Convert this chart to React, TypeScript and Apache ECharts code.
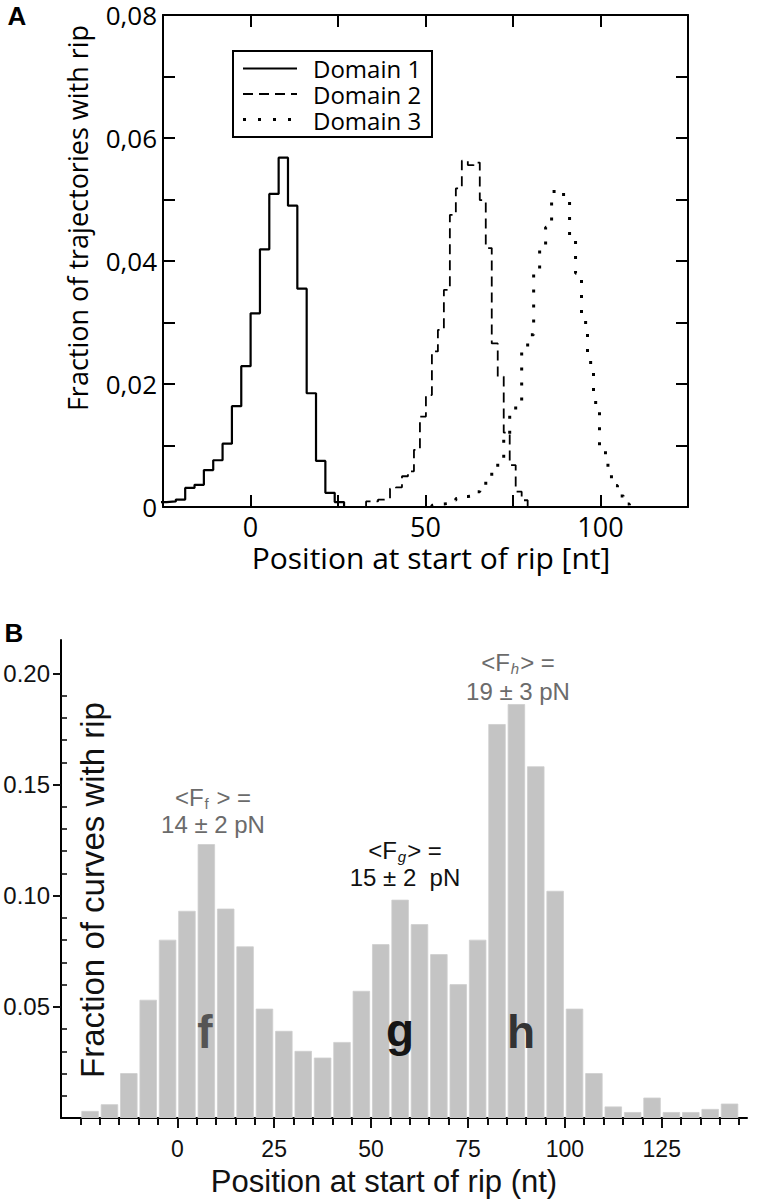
import React, { useEffect, useRef } from 'react';
import * as echarts from 'echarts';

// ---------- Panel A data (step histograms) ----------
const aXLabelValues = [0, 50, 100];
const d1Start = -26.67;
const d1Bin = 2.67;
const d1Values = [0.0008, 0.0009, 0.0012, 0.0031, 0.0036, 0.006, 0.0076, 0.0103, 0.0164, 0.0229, 0.0315, 0.0419, 0.0509, 0.0568, 0.049, 0.0355, 0.0185, 0.0075, 0.0023, 0.0008];
const d23Bin = 1.71;
const d2Start = 33.02;
const d2Values = [0.0009, 0.0009, 0.0012, 0.0013, 0.003, 0.0032, 0.005, 0.0058, 0.0093, 0.0147, 0.0182, 0.0253, 0.0288, 0.0353, 0.0475, 0.0518, 0.0563, 0.0556, 0.056, 0.0499, 0.0421, 0.0266, 0.0212, 0.0121, 0.0068, 0.0025, 0.0011, 0.0002];
const d3Start = 51.83;
const d3Values = [0.0003, 0.0005, 0.0006, 0.0011, 0.0014, 0.0017, 0.0018, 0.0025, 0.0035, 0.005, 0.0063, 0.0078, 0.011, 0.015, 0.0172, 0.0255, 0.028, 0.0382, 0.042, 0.0455, 0.0513, 0.0515, 0.0502, 0.0442, 0.038, 0.03, 0.0235, 0.017, 0.0095, 0.0068, 0.0035, 0.0018, 0.0005];
const legendNames = ['Domain 1', 'Domain 2', 'Domain 3'];

// ---------- Panel B data (bar histogram) ----------
const bBin = 5;
const bBinStarts = [-25, -20, -15, -10, -5, 0, 5, 10, 15, 20, 25, 30, 35, 40, 45, 50, 55, 60, 65, 70, 75, 80, 85, 90, 95, 100, 105, 110, 115, 120, 125, 130, 135, 140];
const bValues = [0.003, 0.006, 0.02, 0.053, 0.08, 0.093, 0.123, 0.094, 0.077, 0.049, 0.039, 0.03, 0.027, 0.034, 0.057, 0.078, 0.098, 0.087, 0.0735, 0.06, 0.08, 0.177, 0.186, 0.158, 0.102, 0.049, 0.02, 0.005, 0.0025, 0.009, 0.0025, 0.0025, 0.0039, 0.0063];
const bXLabelValues = [0, 25, 50, 75, 100, 125];
const bXMinorTicks = [-25, -20, -15, -10, -5, 0, 5, 10, 15, 20, 25, 30, 35, 40, 45, 50, 55, 60, 65, 70, 75, 80, 85, 90, 95, 100, 105, 110, 115, 120, 125, 130, 135, 140, 145];
const bYLabelValues = [0.05, 0.1, 0.15, 0.2];
const bYMinorTicks = [0.01, 0.02, 0.03, 0.04, 0.06, 0.07, 0.08, 0.09, 0.11, 0.12, 0.13, 0.14, 0.16, 0.17, 0.18, 0.19];

function stepData(start: number, bin: number, values: number[]) {
  const pts: number[][] = [[start, 0]];
  values.forEach((v, i) => pts.push([start + i * bin, v]));
  pts.push([start + values.length * bin, 0]);
  return pts;
}

const SANS_A = 'Open Sans';
const SANS_B = 'Liberation Sans';

export default function App() {
  const ref = useRef<HTMLDivElement>(null);
  useEffect(() => {
    if (!ref.current) return;
    const chart = echarts.init(ref.current, null, { renderer: 'svg' });

    const frameLine = { show: true, onZero: false, lineStyle: { color: '#000', width: 2 } };
    const insideTick = { show: true, inside: true, length: 12, lineStyle: { color: '#000', width: 2 } };

    const annot = (x: number, y: number, text: string, color: string, rich?: any) => ({
      type: 'text', x, y,
      style: { text, fill: color, fontSize: 24, fontFamily: SANS_B, align: 'center', verticalAlign: 'middle', rich },
    });
    const richBase = (color: string, italic: boolean) => ({
      a: { fontSize: 24, fontFamily: SANS_B, fill: color, lineHeight: 28, verticalAlign: 'middle' },
      s: { fontSize: 15, fontFamily: SANS_B, fill: color, fontStyle: italic ? 'italic' : 'normal', lineHeight: 28, verticalAlign: 'bottom', padding: [0, 1, 0, 1] },
    });

    const option: any = {
      animation: false,
      grid: [
        { left: 163, top: 15, width: 525, height: 492 },
        { left: 61, top: 640, width: 686, height: 478 },
      ],
      xAxis: [
        {
          gridIndex: 0, type: 'value', min: -25, max: 125, interval: 25, position: 'bottom',
          axisLine: frameLine, axisTick: insideTick, splitLine: { show: false },
          axisLabel: {
            margin: 6, fontSize: 27, lineHeight: 27, fontFamily: SANS_A, color: '#000',
            formatter: (v: number) => (aXLabelValues.indexOf(v) >= 0 ? String(v) : ''),
          },
        },
        {
          gridIndex: 0, type: 'value', min: -25, max: 125, interval: 25, position: 'top',
          axisLine: frameLine, axisTick: insideTick, splitLine: { show: false }, axisLabel: { show: false },
        },
        {
          gridIndex: 1, type: 'value', min: -30, max: 147, interval: 5, position: 'bottom',
          axisLine: frameLine,
          axisTick: { show: true, length: 7, customValues: bXMinorTicks, lineStyle: { color: '#111', width: 2 } },
          splitLine: { show: false },
          axisLabel: {
            margin: 19, fontSize: 23, fontFamily: SANS_B, color: '#111', customValues: bXLabelValues,
            formatter: (v: number) => (bXLabelValues.indexOf(v) >= 0 ? String(v) : ''),
          },
        },
        {
          gridIndex: 1, type: 'value', min: -30, max: 147, interval: 5, position: 'bottom',
          axisLine: { show: false, onZero: false },
          axisTick: { show: true, length: 10, customValues: bXLabelValues, lineStyle: { color: '#111', width: 2 } },
          splitLine: { show: false }, axisLabel: { show: false },
        },
      ],
      yAxis: [
        {
          gridIndex: 0, type: 'value', min: 0, max: 0.08, interval: 0.01, position: 'left',
          axisLine: frameLine, axisTick: insideTick, splitLine: { show: false },
          axisLabel: {
            margin: 6, fontSize: 26, lineHeight: 24, fontFamily: SANS_A, color: '#000',
            formatter: (v: number) => {
              const r = Math.round(v * 100);
              if (r % 2 !== 0) return '';
              if (r === 0) return '0';
              return v.toFixed(2).replace('.', ',');
            },
          },
        },
        {
          gridIndex: 0, type: 'value', min: 0, max: 0.08, interval: 0.01, position: 'right',
          axisLine: frameLine, axisTick: insideTick, splitLine: { show: false }, axisLabel: { show: false },
        },
        {
          gridIndex: 1, type: 'value', min: 0, max: 0.215, interval: 0.05, position: 'left',
          axisLine: frameLine,
          axisTick: { show: true, length: 8, customValues: bYLabelValues, lineStyle: { color: '#111', width: 2 } },
          splitLine: { show: false },
          axisLabel: {
            margin: 11, fontSize: 24, fontFamily: SANS_B, color: '#111', customValues: bYLabelValues,
            formatter: (v: number) => (v > 0.001 && v < 0.21 ? v.toFixed(2) : ''),
          },
        },
        {
          gridIndex: 1, type: 'value', min: 0, max: 0.215, interval: 0.05, position: 'left',
          axisLine: { show: false, onZero: false },
          axisTick: { show: true, inside: true, length: 6, customValues: bYMinorTicks, lineStyle: { color: '#111', width: 1.6 } },
          splitLine: { show: false }, axisLabel: { show: false },
        },
      ],
      series: [
        {
          name: legendNames[0], type: 'line', xAxisIndex: 0, yAxisIndex: 0, step: 'end', showSymbol: false, symbol: 'none',
          clip: true, data: stepData(d1Start, d1Bin, d1Values),
          lineStyle: { color: '#000', width: 2.2 },
        },
        {
          name: legendNames[1], type: 'line', xAxisIndex: 0, yAxisIndex: 0, step: 'end', showSymbol: false, symbol: 'none',
          clip: true, data: stepData(d2Start, d23Bin, d2Values),
          lineStyle: { color: '#000', width: 1.8, type: [10, 6] },
        },
        {
          name: legendNames[2], type: 'line', xAxisIndex: 0, yAxisIndex: 0, step: 'end', showSymbol: false, symbol: 'none',
          clip: true, data: stepData(d3Start, d23Bin, d3Values),
          lineStyle: { color: '#000', width: 3, type: [3, 12], cap: 'butt' },
        },
        {
          type: 'custom', xAxisIndex: 2, yAxisIndex: 2, clip: true,
          data: bBinStarts.map((s, i) => [s, s + bBin, bValues[i]]),
          encode: { x: [0, 1], y: 2 },
          renderItem: (params: any, api: any) => {
            const p0 = api.coord([api.value(0), 0]);
            const p1 = api.coord([api.value(1), api.value(2)]);
            return {
              type: 'rect',
              shape: { x: p0[0] + 1.4, y: p1[1], width: p1[0] - p0[0] - 2.8, height: p0[1] - p1[1] },
              style: { fill: '#c4c4c4', stroke: '#cecece', lineWidth: 0.8 },
            };
          },
          z: 1,
        },
      ],
      graphic: [
        // panel letters
        { type: 'text', x: 17, y: 16, style: { text: 'A', fontSize: 26, fontWeight: 'bold', fontFamily: SANS_B, fill: '#000', align: 'center', verticalAlign: 'middle' } },
        { type: 'text', x: 14, y: 633, style: { text: 'B', fontSize: 26, fontWeight: 'bold', fontFamily: SANS_B, fill: '#000', align: 'center', verticalAlign: 'middle' } },
        // panel A titles
        { type: 'text', x: 77, y: 218, rotation: Math.PI / 2, style: { text: 'Fraction of trajectories with rip', fontSize: 27, fontFamily: SANS_A, fill: '#000', align: 'center', verticalAlign: 'middle' } },
        { type: 'text', x: 431, y: 557, style: { text: 'Position at start of rip [nt]', fontSize: 30, lineHeight: 30, fontFamily: SANS_A, fill: '#000', align: 'center', verticalAlign: 'middle' } },
        // panel A legend
        { type: 'rect', shape: { x: 233, y: 51, width: 199, height: 86 }, style: { fill: '#fff', stroke: '#000', lineWidth: 2 }, z: 10 },
        { type: 'line', shape: { x1: 243, y1: 68.5, x2: 297, y2: 68.5 }, style: { stroke: '#000', lineWidth: 2 }, z: 11 },
        { type: 'line', shape: { x1: 243, y1: 94, x2: 297, y2: 94 }, style: { stroke: '#000', lineWidth: 1.8, lineDash: [10, 6] }, z: 11 },
        { type: 'line', shape: { x1: 243, y1: 119.5, x2: 297, y2: 119.5 }, style: { stroke: '#000', lineWidth: 3, lineDash: [3, 12] }, z: 11 },
        ...legendNames.map((n, i) => ({
          type: 'text', x: 313, y: 68 + i * 26, z: 11,
          style: { text: n, fontSize: 24, lineHeight: 24, fontFamily: SANS_A, fill: '#000', align: 'left', verticalAlign: 'middle' },
        })),
        // panel B titles
        { type: 'text', x: 92, y: 890, rotation: Math.PI / 2, z: 5, style: { text: 'Fraction of curves with rip', fontSize: 33, fontFamily: SANS_B, fill: '#111', align: 'center', verticalAlign: 'middle' } },
        { type: 'text', x: 384, y: 1181, style: { text: 'Position at start of rip (nt)', fontSize: 31, fontFamily: SANS_B, fill: '#111', align: 'center', verticalAlign: 'middle' } },
        // annotations
        { ...annot(213, 797, '{a|<F}{s|f}{a| > =}', '#6b6b6b', richBase('#6b6b6b', false)), z: 5 },
        { ...annot(213, 824, '14 ± 2 pN', '#6b6b6b'), z: 5 },
        { ...annot(405, 850, '{a|<F}{s|g}{a|> =}', '#111', richBase('#111', true)), z: 5 },
        { ...annot(405, 877, '15 ± 2  pN', '#111'), z: 5 },
        { ...annot(518, 662, '{a|<F}{s|h}{a|> =}', '#6b6b6b', richBase('#6b6b6b', true)), z: 5 },
        { ...annot(518, 691, '19 ± 3 pN', '#6b6b6b'), z: 5 },
        // peak letters
        { type: 'text', x: 205, y: 1032, z: 5, style: { text: 'f', fontSize: 46, fontWeight: 'bold', fontFamily: SANS_B, fill: '#555', align: 'center', verticalAlign: 'middle' } },
        { type: 'text', x: 400, y: 1030, z: 5, style: { text: 'g', fontSize: 46, fontWeight: 'bold', fontFamily: SANS_B, fill: '#151515', align: 'center', verticalAlign: 'middle' } },
        { type: 'text', x: 521, y: 1032, z: 5, style: { text: 'h', fontSize: 46, fontWeight: 'bold', fontFamily: SANS_B, fill: '#333', align: 'center', verticalAlign: 'middle' } },
      ],
    };
    chart.setOption(option);
    return () => chart.dispose();
  }, []);
  return <div ref={ref} style={{ position: 'absolute', left: 0, top: 0, width: 758, height: 1200 }} />;
}
